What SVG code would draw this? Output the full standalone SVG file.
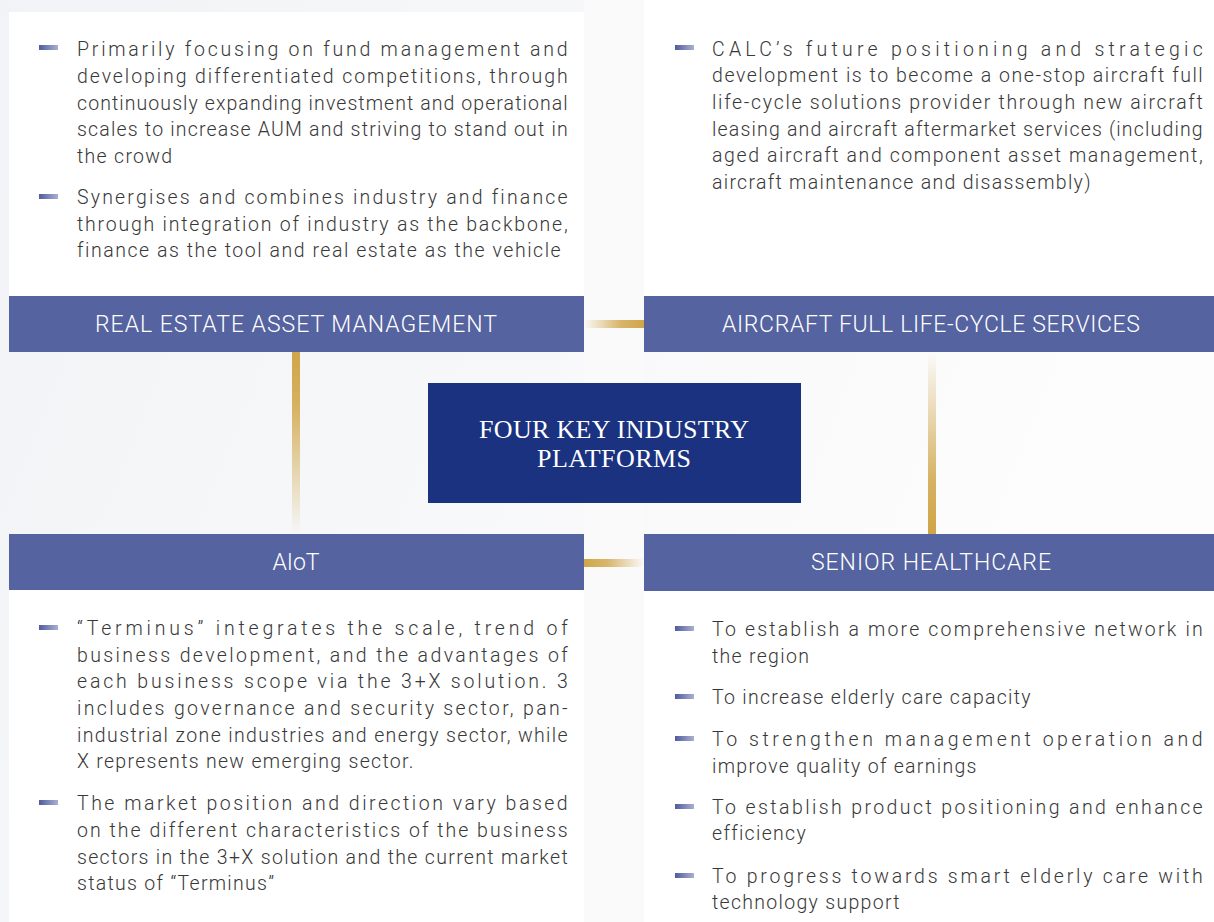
<svg xmlns="http://www.w3.org/2000/svg" width="1214" height="922" viewBox="0 0 1214 922">
  <defs>
    <linearGradient id="bg" x1="0" y1="0" x2="1" y2="0.3">
      <stop offset="0" stop-color="#f2f3f6"/>
      <stop offset="1" stop-color="#fdfdfd"/>
    </linearGradient>
    <linearGradient id="dash" x1="0" y1="0" x2="1" y2="0">
      <stop offset="0" stop-color="#4f5c9e"/>
      <stop offset="1" stop-color="#aab0d2"/>
    </linearGradient>
    <linearGradient id="goldR" x1="0" y1="0" x2="1" y2="0">
      <stop offset="0" stop-color="#d0a548" stop-opacity="0"/>
      <stop offset="0.6" stop-color="#d0a548" stop-opacity="0.8"/>
      <stop offset="1" stop-color="#d0a548"/>
    </linearGradient>
    <linearGradient id="goldL" x1="1" y1="0" x2="0" y2="0">
      <stop offset="0" stop-color="#d0a548" stop-opacity="0"/>
      <stop offset="0.6" stop-color="#d0a548" stop-opacity="0.8"/>
      <stop offset="1" stop-color="#d0a548"/>
    </linearGradient>
    <linearGradient id="goldD" x1="0" y1="1" x2="0" y2="0">
      <stop offset="0" stop-color="#d0a548" stop-opacity="0"/>
      <stop offset="0.7" stop-color="#d0a548" stop-opacity="0.85"/>
      <stop offset="1" stop-color="#d0a548"/>
    </linearGradient>
    <linearGradient id="goldU" x1="0" y1="0" x2="0" y2="1">
      <stop offset="0" stop-color="#d0a548" stop-opacity="0"/>
      <stop offset="0.7" stop-color="#d0a548" stop-opacity="0.85"/>
      <stop offset="1" stop-color="#d0a548"/>
    </linearGradient>
  </defs>
  <style>
    .panel { fill: #ffffff; }
    .head { fill: #5563a0; }
    .htxt { font-family: Roboto, "Liberation Sans", sans-serif; font-weight: 300; font-size: 23px; fill: #ffffff; text-anchor: middle; }
    .body { font-family: Roboto, "Liberation Sans", sans-serif; font-weight: 300; font-size: 19.5px; letter-spacing: 1.3px; fill: #383838; }
    .mk { fill: url(#dash); }
    .core { fill: #1a3280; }
    .ctxt { font-family: "Liberation Serif", serif; font-size: 26px; fill: #ffffff; text-anchor: middle; }
  </style>

  <rect x="0" y="0" width="1214" height="922" fill="url(#bg)"/>
  <rect x="584" y="0" width="60" height="922" fill="#fafafa"/>

  <!-- connectors between the four platforms -->
  <g id="connectors">
    <rect x="584" y="320" width="60" height="8" fill="url(#goldR)"/>
    <rect x="583" y="559" width="61" height="8" fill="url(#goldL)"/>
    <rect x="292" y="352" width="8" height="182" fill="url(#goldD)"/>
    <rect x="928" y="352" width="8" height="182" fill="url(#goldU)"/>
  </g>

  <!-- centre -->
  <g id="core">
    <rect class="core" x="428" y="383" width="373" height="120"/>
    <text class="ctxt" x="614" y="438" textLength="270" lengthAdjust="spacing">FOUR KEY INDUSTRY</text>
    <text class="ctxt" x="614" y="467" textLength="154" lengthAdjust="spacing">PLATFORMS</text>
  </g>

  <!-- real estate -->
  <g id="real-estate">
    <rect class="panel" x="9" y="12" width="575" height="284"/>
    <rect class="head" x="9" y="296" width="575" height="56"/>
    <text class="htxt" x="296" y="332" textLength="402" lengthAdjust="spacing">REAL ESTATE ASSET MANAGEMENT</text>
    <rect class="mk" x="39" y="45" width="19" height="5"/>
    <text class="body" x="77" y="56" textLength="492" lengthAdjust="spacing">Primarily focusing on fund management and</text>
    <text class="body" x="77" y="83" textLength="492" lengthAdjust="spacing">developing differentiated competitions, through</text>
    <text class="body" x="77" y="110" textLength="492" lengthAdjust="spacing">continuously expanding investment and operational</text>
    <text class="body" x="77" y="136" textLength="492" lengthAdjust="spacing">scales to increase AUM and striving to stand out in</text>
    <text class="body" x="77" y="163">the crowd</text>
    <rect class="mk" x="39" y="194" width="19" height="5"/>
    <text class="body" x="77" y="204" textLength="492" lengthAdjust="spacing">Synergises and combines industry and finance</text>
    <text class="body" x="77" y="231" textLength="492" lengthAdjust="spacing">through integration of industry as the backbone,</text>
    <text class="body" x="77" y="257" textLength="485" lengthAdjust="spacing">finance as the tool and real estate as the vehicle</text>
  </g>

  <!-- aircraft -->
  <g id="aircraft">
    <rect class="panel" x="644" y="0" width="570" height="296"/>
    <rect class="head" x="644" y="296" width="570" height="56"/>
    <text class="htxt" x="931" y="332" textLength="418" lengthAdjust="spacing">AIRCRAFT FULL LIFE-CYCLE SERVICES</text>
    <rect class="mk" x="675" y="45" width="19" height="5"/>
    <text class="body" x="712" y="56" textLength="492" lengthAdjust="spacing">CALC’s future positioning and strategic</text>
    <text class="body" x="712" y="82" textLength="492" lengthAdjust="spacing">development is to become a one-stop aircraft full</text>
    <text class="body" x="712" y="109" textLength="492" lengthAdjust="spacing">life-cycle solutions provider through new aircraft</text>
    <text class="body" x="712" y="136" textLength="492" lengthAdjust="spacing">leasing and aircraft aftermarket services (including</text>
    <text class="body" x="712" y="162" textLength="492" lengthAdjust="spacing">aged aircraft and component asset management,</text>
    <text class="body" x="712" y="189">aircraft maintenance and disassembly)</text>
  </g>

  <!-- AIoT -->
  <g id="aiot">
    <rect class="panel" x="9" y="590" width="575" height="332"/>
    <rect class="head" x="9" y="534" width="575" height="56"/>
    <text class="htxt" x="296" y="570">AIoT</text>
    <rect class="mk" x="39" y="625" width="19" height="5"/>
    <text class="body" x="77" y="635" textLength="492" lengthAdjust="spacing">“Terminus” integrates the scale, trend of</text>
    <text class="body" x="77" y="662" textLength="492" lengthAdjust="spacing">business development, and the advantages of</text>
    <text class="body" x="77" y="688" textLength="492" lengthAdjust="spacing">each business scope via the 3+X solution. 3</text>
    <text class="body" x="77" y="715" textLength="492" lengthAdjust="spacing">includes governance and security sector, pan-</text>
    <text class="body" x="77" y="742" textLength="492" lengthAdjust="spacing">industrial zone industries and energy sector, while</text>
    <text class="body" x="77" y="768">X represents new emerging sector.</text>
    <rect class="mk" x="39" y="800" width="19" height="5"/>
    <text class="body" x="77" y="810" textLength="492" lengthAdjust="spacing">The market position and direction vary based</text>
    <text class="body" x="77" y="837" textLength="492" lengthAdjust="spacing">on the different characteristics of the business</text>
    <text class="body" x="77" y="864" textLength="492" lengthAdjust="spacing">sectors in the 3+X solution and the current market</text>
    <text class="body" x="77" y="890">status of “Terminus”</text>
  </g>

  <!-- senior healthcare -->
  <g id="senior-healthcare">
    <rect class="panel" x="644" y="590" width="570" height="332"/>
    <rect class="head" x="644" y="534" width="570" height="57"/>
    <text class="htxt" x="931" y="570" textLength="240" lengthAdjust="spacing">SENIOR HEALTHCARE</text>
    <rect class="mk" x="675" y="626" width="19" height="5"/>
    <text class="body" x="712" y="636" textLength="492" lengthAdjust="spacing">To establish a more comprehensive network in</text>
    <text class="body" x="712" y="663">the region</text>
    <rect class="mk" x="675" y="694" width="19" height="5"/>
    <text class="body" x="712" y="704">To increase elderly care capacity</text>
    <rect class="mk" x="675" y="736" width="19" height="5"/>
    <text class="body" x="712" y="746" textLength="492" lengthAdjust="spacing">To strengthen management operation and</text>
    <text class="body" x="712" y="773">improve quality of earnings</text>
    <rect class="mk" x="675" y="804" width="19" height="5"/>
    <text class="body" x="712" y="814" textLength="492" lengthAdjust="spacing">To establish product positioning and enhance</text>
    <text class="body" x="712" y="840">efficiency</text>
    <rect class="mk" x="675" y="873" width="19" height="5"/>
    <text class="body" x="712" y="883" textLength="492" lengthAdjust="spacing">To progress towards smart elderly care with</text>
    <text class="body" x="712" y="909">technology support</text>
  </g>
</svg>
